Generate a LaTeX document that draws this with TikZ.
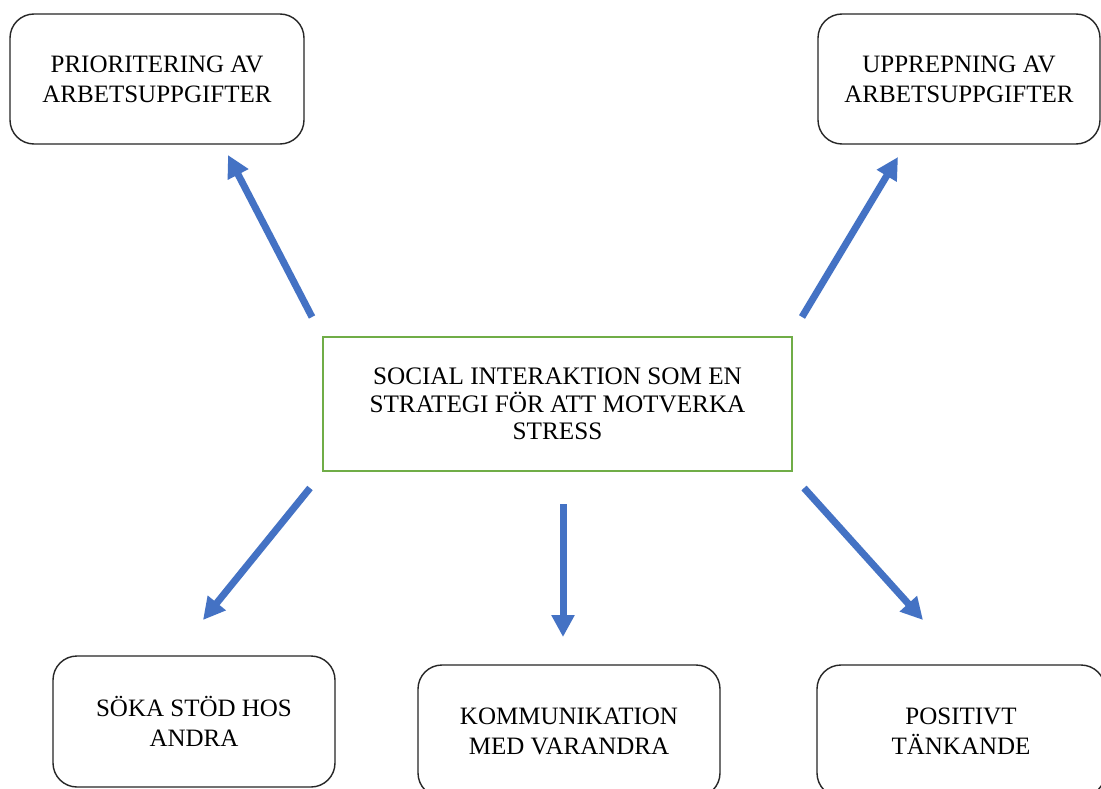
\documentclass[tikz,border=0pt]{standalone}
\usepackage{fontspec}
\setmainfont{Liberation Serif}
\usetikzlibrary{arrows.meta}
\definecolor{arrowblue}{RGB}{68,114,196}
\definecolor{boxgreen}{RGB}{112,173,71}
\tikzset{
  roundbox/.style={draw=black!85, line width=1.4pt, rounded corners=24pt, align=center, inner sep=0pt,
    font=\fontsize{25}{30}\selectfont},
  mainbox/.style={draw=boxgreen, line width=1.2pt, align=center, inner sep=0pt,
    font=\fontsize{25.2}{27.5}\selectfont},
  bluearrow/.style={draw=arrowblue, line width=7pt, -{Triangle[length=22pt,width=22pt]}}
}
\begin{document}
\begin{tikzpicture}[x=1pt,y=-1pt]
\useasboundingbox (0,0) rectangle (1101,789);
\clip (0,0) rectangle (1101,789);
\fill[white] (0,0) rectangle (1101,789);
\node[roundbox, minimum width=294pt, minimum height=130pt] (tl) at (157,79) {PRIORITERING AV\\ARBETSUPPGIFTER};
\node[roundbox, minimum width=282pt, minimum height=130pt] (tr) at (959,79) {UPPREPNING AV\\ARBETSUPPGIFTER};
\node[mainbox, minimum width=469pt, minimum height=134pt] (c) at (557.5,404) {SOCIAL INTERAKTION SOM EN\\STRATEGI FÖR ATT MOTVERKA\\STRESS};
\node[roundbox, minimum width=282pt, minimum height=131pt] (bl) at (194,721.5) {SÖKA STÖD HOS\\ANDRA};
\node[roundbox, minimum width=302pt, minimum height=132pt] (bm) at (569,731) {KOMMUNIKATION\\MED VARANDRA};
\node[roundbox, minimum width=288pt, minimum height=132pt] (br) at (961,731) {POSITIVT\\TÄNKANDE};
\coordinate (a1s) at (312,317);
\coordinate (a1e) at (228,155);
\coordinate (a2s) at (802,317);
\coordinate (a2e) at (898,157);
\coordinate (a3s) at (310,488);
\coordinate (a3e) at (203,620);
\coordinate (a4s) at (563,504);
\coordinate (a4e) at (563,637);
\coordinate (a5s) at (804,488);
\coordinate (a5e) at (923,620);
\draw[bluearrow] (a1s) -- (a1e);
\draw[bluearrow] (a2s) -- (a2e);
\draw[bluearrow] (a3s) -- (a3e);
\draw[bluearrow] (a4s) -- (a4e);
\draw[bluearrow] (a5s) -- (a5e);
\end{tikzpicture}
\end{document}
